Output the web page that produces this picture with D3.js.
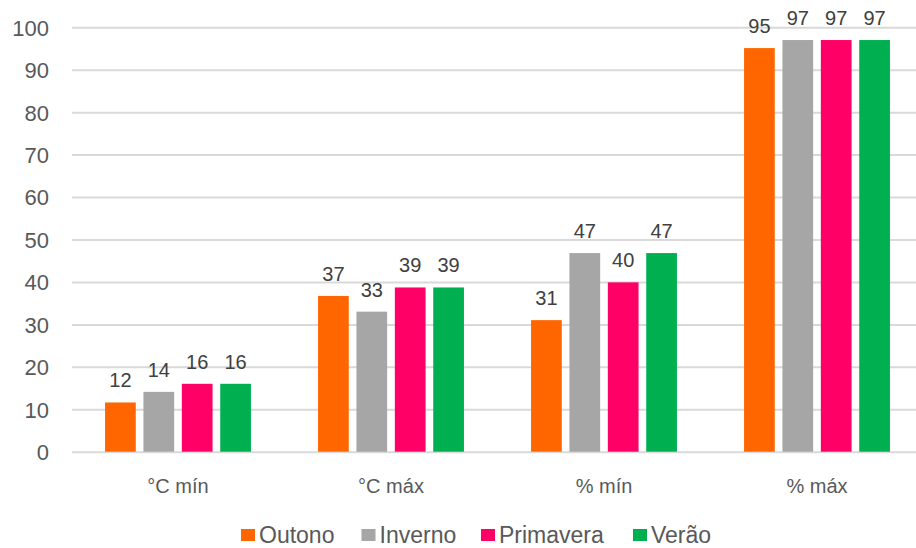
<!DOCTYPE html>
<html>
<head>
<meta charset="utf-8">
<script src="https://cdn.jsdelivr.net/npm/d3@7"></script>
<style>
  html, body { margin: 0; padding: 0; background: #fff; }
  svg { display: block; font-family: "Liberation Sans", Arial, sans-serif; }
</style>
</head>
<body>
<svg id="chart" width="916" height="548"></svg>
<script>
// Climate summary by season: temperature (°C) and relative humidity (%)
const categories = ["°C mín", "°C máx", "% mín", "% máx"];
const seasons = ["Outono", "Inverno", "Primavera", "Verão"];
const colors = ["#FF6600", "#A6A6A6", "#FF0066", "#00B050"];
const outono = [11.6, 36.7, 31.0, 95.1];
const inverno = [14.1, 33.0, 46.8, 97.0];
const primavera = [16.0, 38.7, 39.9, 97.0];
const verao = [16.0, 38.7, 46.8, 97.0];
const yTicks = [0, 10, 20, 30, 40, 50, 60, 70, 80, 90, 100];

const seriesValues = [outono, inverno, primavera, verao];

const svg = d3.select("#chart");
const W = 916;

const x0 = d3.scaleBand()
  .domain(categories)
  .range([71.5, 923.5])
  .paddingInner(0.315)
  .paddingOuter(0.1575);

const x1 = d3.scaleBand()
  .domain(seasons)
  .range([0, x0.bandwidth()])
  .paddingInner(0.2)
  .paddingOuter(0);

const y = d3.scaleLinear().domain([0, 100]).range([451.7, 27.3]);

// Gridlines and y tick labels
const yAxis = d3.axisLeft(y)
  .tickValues(yTicks)
  .tickSize(-(W - 72))
  .tickPadding(22);

const gy = svg.append("g")
  .attr("transform", "translate(72,0)")
  .call(yAxis);
gy.select(".domain").remove();
gy.selectAll(".tick line").attr("stroke", "#d9d9d9").attr("stroke-width", 2);
gy.selectAll(".tick text")
  .attr("fill", "#595959")
  .attr("font-size", 22)
  .attr("x", -23)
  .attr("dy", "0.36em");

// Bars
const groups = svg.append("g")
  .selectAll("g")
  .data(categories)
  .join("g")
  .attr("transform", c => `translate(${x0(c)},0)`);

const cellData = (c, ci) => seasons.map((s, si) => ({ s, si, v: seriesValues[si][ci] }));

groups.each(function (c, ci) {
  const g = d3.select(this);
  const d = cellData(c, ci);
  g.selectAll("rect")
    .data(d)
    .join("rect")
    .attr("x", e => x1(e.s))
    .attr("width", x1.bandwidth())
    .attr("y", e => y(e.v))
    .attr("height", e => y(0) - y(e.v))
    .attr("fill", e => colors[e.si]);
  g.selectAll("text")
    .data(d)
    .join("text")
    .attr("x", e => x1(e.s) + x1.bandwidth() / 2)
    .attr("y", e => y(e.v) - 15)
    .attr("text-anchor", "middle")
    .attr("font-size", 20)
    .attr("fill", "#404040")
    .text(e => d3.format(".0f")(e.v));
});

// Category axis labels
const xAxis = d3.axisBottom(x0).tickSize(0).tickPadding(0);
const gx = svg.append("g")
  .attr("transform", "translate(0,451.7)")
  .call(xAxis);
gx.select(".domain").remove();
gx.selectAll(".tick text")
  .attr("fill", "#595959")
  .attr("font-size", 20)
  .attr("y", 41)
  .attr("dy", 0);

// Legend
const legendX = [241, 361.5, 481, 633];
const legend = svg.append("g")
  .selectAll("g")
  .data(seasons)
  .join("g")
  .attr("transform", (s, i) => `translate(${legendX[i]},529)`);
legend.append("rect")
  .attr("width", 14).attr("height", 12)
  .attr("fill", (s, i) => colors[i]);
legend.append("text")
  .attr("x", 18)
  .attr("y", 14)
  .attr("font-size", 23)
  .attr("fill", "#595959")
  .text(s => s);
</script>
</body>
</html>
